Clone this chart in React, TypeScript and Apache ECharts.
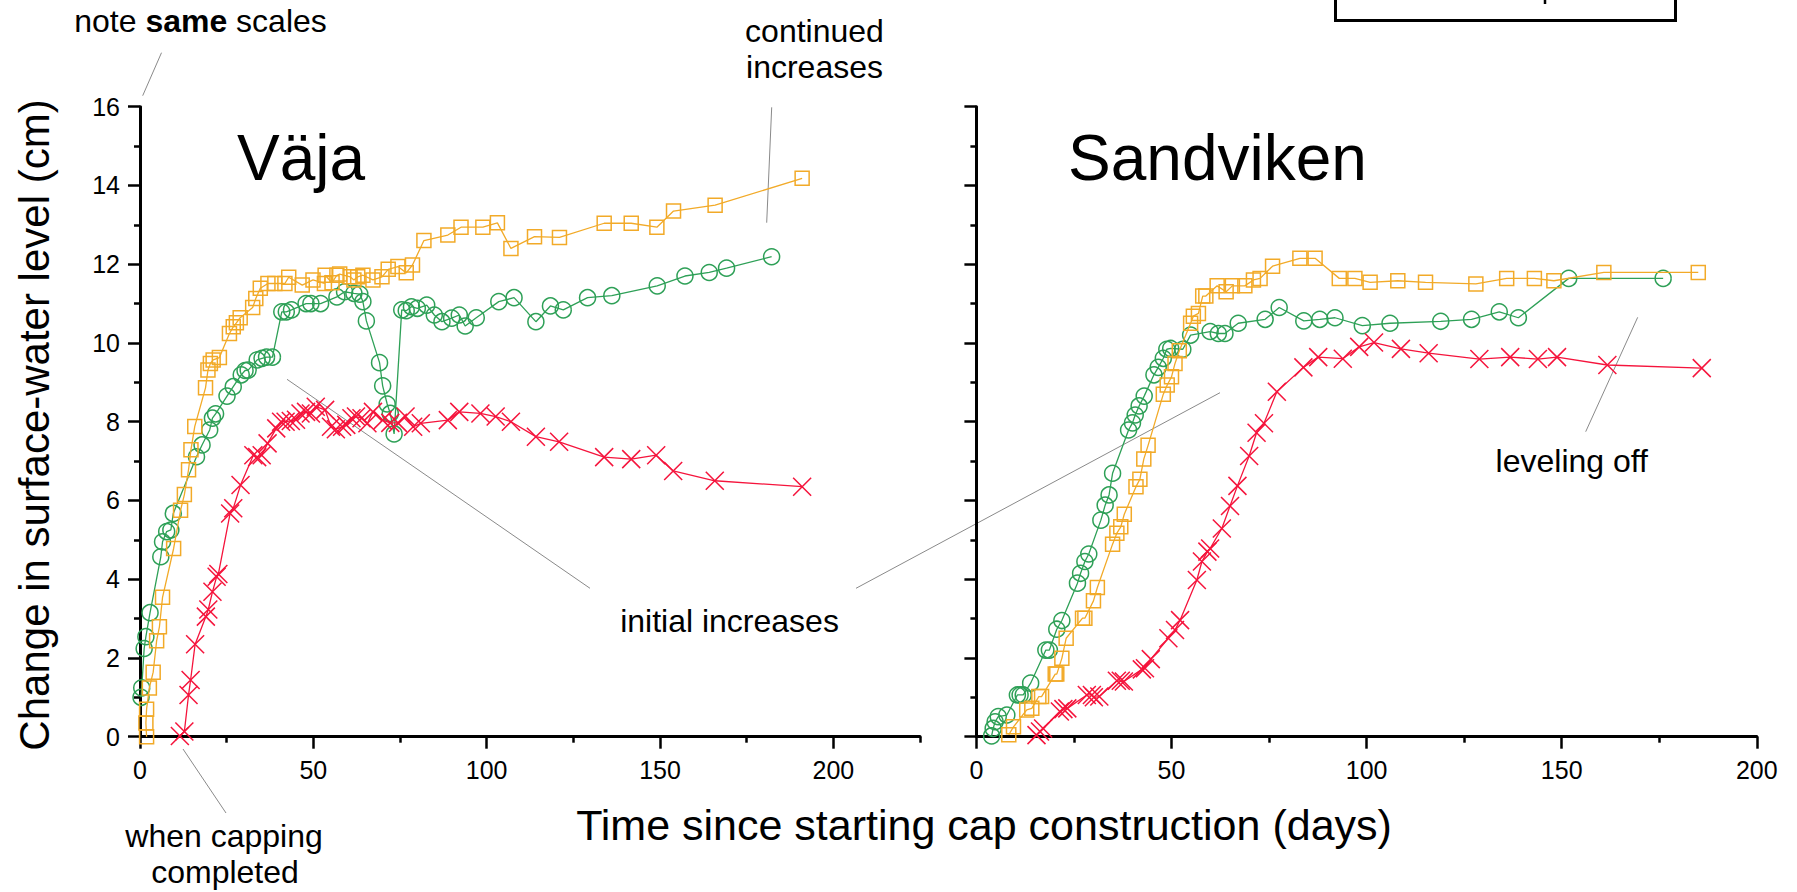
import React, { useEffect, useRef } from "react";
import * as echarts from "echarts";

const FONT = '"Liberation Sans", Arial, sans-serif';

// ---- Väja (left panel) ----
const vajaOrangeDays = [1.9, 1.7, 1.9, 2.7, 3.8, 4.8, 5.6, 6.5, 9.7, 11.7, 12.8, 14.0, 14.7, 15.8, 18.9, 19.6, 20.3, 21.1, 22.9, 25.8, 26.9, 27.8, 28.9, 32.5, 33.4, 34.7, 36.9, 38.9, 41.8, 42.9, 46.8, 49.9, 53.2, 53.4, 55.4, 56.8, 57.6, 60.6, 61.7, 62.8, 64.3, 67.2, 69.8, 71.6, 74.4, 76.8, 78.6, 81.9, 88.8, 92.6, 98.9, 103.1, 107.0, 113.8, 121.0, 133.9, 141.7, 149.1, 153.9, 165.9, 191.0];
const vajaOrangeCm = [0.0, 0.35, 0.7, 1.24, 1.64, 2.44, 2.79, 3.54, 4.78, 5.75, 6.15, 6.78, 7.29, 7.88, 8.86, 9.31, 9.48, 9.57, 9.63, 10.24, 10.41, 10.51, 10.64, 10.9, 11.13, 11.39, 11.51, 11.51, 11.51, 11.67, 11.47, 11.6, 11.51, 11.72, 11.53, 11.72, 11.75, 11.68, 11.6, 11.68, 11.72, 11.6, 11.68, 11.87, 11.94, 11.78, 11.98, 12.6, 12.74, 12.94, 12.94, 13.05, 12.4, 12.7, 12.68, 13.04, 13.04, 12.94, 13.35, 13.5, 14.18];

const vajaGreenDays = [0.3, 0.5, 1.2, 1.7, 2.9, 6.0, 6.5, 7.7, 8.9, 9.6, 16.3, 17.9, 20.1, 20.9, 21.8, 25.1, 26.9, 29.2, 30.3, 31.2, 33.8, 35.2, 36.5, 38.2, 40.9, 42.2, 43.7, 47.9, 49.3, 52.1, 56.8, 59.0, 61.7, 63.4, 64.3, 65.3, 69.1, 70.0, 71.3, 72.2, 73.3, 75.5, 76.8, 78.3, 80.0, 82.7, 84.9, 87.1, 89.9, 92.1, 93.8, 97.0, 103.5, 107.9, 114.2, 118.4, 122.1, 129.1, 136.1, 149.2, 157.2, 164.2, 169.2, 182.2];
const vajaGreenCm = [1.0, 1.24, 2.24, 2.54, 3.15, 4.57, 4.95, 5.21, 5.25, 5.67, 7.11, 7.41, 7.79, 8.09, 8.2, 8.65, 8.89, 9.19, 9.3, 9.31, 9.57, 9.61, 9.64, 9.64, 10.79, 10.79, 10.84, 11.0, 11.0, 11.0, 11.17, 11.3, 11.26, 11.24, 11.05, 10.56, 9.5, 8.91, 8.45, 8.21, 7.69, 10.84, 10.82, 10.92, 10.88, 10.96, 10.71, 10.54, 10.63, 10.71, 10.43, 10.64, 11.05, 11.15, 10.54, 10.94, 10.84, 11.15, 11.2, 11.45, 11.7, 11.79, 11.9, 12.19];

const vajaRedDays = [11.5, 12.8, 14.0, 14.6, 15.9, 19.0, 19.7, 20.9, 22.1, 22.6, 26.0, 26.9, 29.0, 32.7, 33.8, 35.1, 36.8, 39.3, 40.7, 42.0, 43.5, 45.0, 46.3, 47.9, 49.3, 50.7, 53.4, 55.1, 56.5, 58.3, 59.5, 61.0, 62.3, 63.9, 65.6, 67.2, 70.0, 72.2, 74.4, 76.6, 78.8, 81.0, 88.8, 92.1, 98.2, 102.6, 107.0, 114.2, 120.9, 133.9, 141.7, 148.9, 153.8, 165.8, 191.0];
const vajaRedCm = [0.02, 0.13, 1.06, 1.44, 2.35, 3.05, 3.23, 3.68, 4.06, 4.13, 5.67, 5.8, 6.39, 7.15, 7.1, 7.15, 7.45, 7.83, 8.0, 8.0, 8.02, 8.05, 8.21, 8.25, 8.21, 8.38, 8.3, 7.87, 7.81, 7.87, 7.92, 8.09, 8.13, 8.09, 7.96, 8.25, 8.04, 7.97, 7.97, 8.13, 7.87, 7.96, 8.04, 8.25, 8.21, 8.13, 8.0, 7.62, 7.49, 7.1, 7.05, 7.15, 6.75, 6.5, 6.35];

// ---- Sandviken (right panel) ----
const sandGreenDays = [3.9, 4.3, 4.8, 5.6, 7.8, 10.5, 11.2, 12.0, 13.9, 17.8, 18.7, 20.6, 21.9, 25.9, 26.7, 27.8, 28.8, 31.9, 33.0, 34.0, 34.9, 39.0, 40.0, 40.7, 41.7, 43.0, 45.5, 46.6, 47.9, 48.8, 49.8, 52.9, 54.9, 59.9, 62.0, 63.7, 67.1, 74.0, 77.6, 83.9, 88.0, 91.9, 98.9, 106.0, 119.0, 126.9, 134.0, 138.9, 151.8, 176.0];
const sandGreenCm = [0.02, 0.21, 0.38, 0.51, 0.55, 1.06, 1.06, 1.06, 1.36, 2.2, 2.2, 2.73, 2.95, 3.9, 4.15, 4.45, 4.64, 5.5, 5.88, 6.14, 6.69, 7.79, 7.97, 8.17, 8.4, 8.65, 9.19, 9.38, 9.61, 9.84, 9.86, 9.84, 10.2, 10.29, 10.24, 10.24, 10.5, 10.6, 10.9, 10.56, 10.6, 10.64, 10.44, 10.5, 10.55, 10.6, 10.79, 10.64, 11.64, 11.64];

const sandOrangeDays = [8.3, 9.5, 12.9, 14.2, 16.0, 16.7, 20.2, 20.6, 21.9, 23.0, 27.2, 27.8, 30.0, 31.0, 34.9, 36.0, 37.0, 37.9, 40.9, 41.9, 42.9, 44.0, 47.9, 48.9, 50.0, 50.9, 52.0, 54.9, 55.6, 56.9, 58.0, 58.8, 61.7, 64.0, 65.6, 68.8, 71.0, 72.7, 75.9, 82.9, 86.8, 93.0, 97.0, 100.9, 108.0, 115.1, 128.0, 135.9, 143.0, 148.0, 160.8, 185.0];
const sandOrangeCm = [0.05, 0.25, 0.68, 0.72, 1.02, 1.02, 1.59, 1.59, 1.99, 2.5, 3.01, 3.01, 3.45, 3.79, 4.89, 5.17, 5.33, 5.65, 6.35, 6.54, 7.05, 7.4, 8.7, 8.93, 9.14, 9.48, 9.8, 10.5, 10.68, 10.75, 11.19, 11.19, 11.45, 11.3, 11.45, 11.45, 11.6, 11.64, 11.95, 12.15, 12.15, 11.64, 11.64, 11.54, 11.58, 11.54, 11.5, 11.64, 11.64, 11.58, 11.79, 11.79];

const sandRedDays = [15.4, 16.3, 17.1, 21.4, 22.3, 23.3, 28.3, 29.6, 30.1, 31.5, 36.0, 37.0, 37.8, 42.4, 43.2, 44.7, 49.2, 50.9, 52.2, 56.5, 57.8, 59.2, 59.9, 62.9, 65.0, 66.9, 69.9, 71.8, 73.7, 77.0, 83.8, 87.6, 93.9, 98.1, 101.9, 108.8, 115.9, 128.9, 136.8, 143.9, 148.8, 161.7, 185.9];
const sandRedCm = [0.04, 0.13, 0.21, 0.64, 0.7, 0.72, 1.06, 1.06, 1.0, 1.02, 1.42, 1.42, 1.4, 1.71, 1.74, 1.97, 2.5, 2.71, 2.96, 3.98, 4.45, 4.7, 4.78, 5.29, 5.86, 6.37, 7.13, 7.72, 7.96, 8.76, 9.38, 9.64, 9.6, 9.9, 10.01, 9.85, 9.74, 9.59, 9.64, 9.59, 9.64, 9.44, 9.36];

// ---- axes ----
const yTicks = [0, 2, 4, 6, 8, 10, 12, 14, 16];
const xLabelsLeft = [0, 50, 100, 150, 200];
const xMinorLeft = [25, 75, 125, 175, 225];

const ORANGE = "#F2AA28";
const GREEN = "#2EA057";
const RED = "#F5143C";
const CROSS = "path://M0 0L20 20M20 0L0 20";

const zip = (a: number[], b: number[]) => a.map((v, i) => [v, b[i]]);

const axisLineStyle = { color: "#000", width: 3 };
const tickStyle = { color: "#000", width: 2.5 };
const labelStyle = { fontSize: 25, color: "#000", fontFamily: FONT };

function makeSeries(name: string, data: number[][], xi: number, yi: number, color: string, kind: string) {
  const symbol = kind === "square" ? "rect" : kind === "circle" ? "circle" : CROSS;
  const size = kind === "square" ? 14 : kind === "circle" ? 16 : 18;
  return {
    name,
    type: "line",
    xAxisIndex: xi,
    yAxisIndex: yi,
    data,
    symbol,
    symbolSize: size,
    showSymbol: true,
    lineStyle: { color, width: 1.3 },
    itemStyle: { color: "rgba(0,0,0,0)", borderColor: color, borderWidth: 1.5 },
    emphasis: { disabled: true },
    silent: true,
    z: kind === "cross" ? 4 : kind === "square" ? 3 : 2,
  };
}

function txt(text: string, x: number, y: number, size: number, align = "center", extra: any = {}) {
  return {
    type: "text",
    x,
    y,
    silent: true,
    ...extra,
    style: { text, fill: "#000", fontSize: size, fontFamily: FONT, align, verticalAlign: "middle" },
  };
}

function ln(x1: number, y1: number, x2: number, y2: number) {
  return { type: "line", silent: true, shape: { x1, y1, x2, y2 }, style: { stroke: "#8a8a8a", lineWidth: 1 } };
}

export default function App() {
  const ref = useRef<HTMLDivElement>(null);
  useEffect(() => {
    if (!ref.current) return;
    const chart = echarts.init(ref.current, null, { renderer: "svg" });
    const yAxisBase = {
      type: "value",
      min: 0,
      max: 16,
      interval: 2,
      axisLine: { show: true, onZero: false, lineStyle: axisLineStyle },
      axisTick: { show: true, length: 12, lineStyle: tickStyle },
      minorTick: { show: true, splitNumber: 2, length: 6, lineStyle: tickStyle },
      splitLine: { show: false },
      minorSplitLine: { show: false },
    };
    const option: any = {
      animation: false,
      backgroundColor: "#fff",
      grid: [
        { left: 140, top: 106.7, width: 780, height: 630, outerBoundsMode: "none", containLabel: false },
        { left: 976.4, top: 106.7, width: 780.4, height: 630, outerBoundsMode: "none", containLabel: false },
      ],
      xAxis: [
        {
          gridIndex: 0,
          type: "value",
          min: 0,
          max: 225,
          position: "bottom",
          axisLine: { show: true, onZero: false, lineStyle: axisLineStyle },
          axisTick: { show: true, length: 12, lineStyle: tickStyle, customValues: xLabelsLeft },
          axisLabel: { ...labelStyle, margin: 21, customValues: xLabelsLeft },
          splitLine: { show: false },
        },
        {
          gridIndex: 0,
          type: "value",
          min: 0,
          max: 225,
          position: "bottom",
          axisLine: { show: false },
          axisTick: { show: true, length: 6, lineStyle: tickStyle, customValues: xMinorLeft },
          axisLabel: { show: false },
          splitLine: { show: false },
        },
        {
          gridIndex: 1,
          type: "value",
          min: 0,
          max: 200,
          interval: 50,
          position: "bottom",
          axisLine: { show: true, onZero: false, lineStyle: axisLineStyle },
          axisTick: { show: true, length: 12, lineStyle: tickStyle },
          minorTick: { show: true, splitNumber: 2, length: 6, lineStyle: tickStyle },
          axisLabel: { ...labelStyle, margin: 21 },
          splitLine: { show: false },
          minorSplitLine: { show: false },
        },
      ],
      yAxis: [
        { ...yAxisBase, gridIndex: 0, axisLabel: { ...labelStyle, margin: 20, customValues: yTicks } },
        { ...yAxisBase, gridIndex: 1, axisLabel: { show: false } },
      ],
      series: [
        makeSeries("Väja green", zip(vajaGreenDays, vajaGreenCm), 0, 0, GREEN, "circle"),
        makeSeries("Väja orange", zip(vajaOrangeDays, vajaOrangeCm), 0, 0, ORANGE, "square"),
        makeSeries("Väja red", zip(vajaRedDays, vajaRedCm), 0, 0, RED, "cross"),
        makeSeries("Sandviken green", zip(sandGreenDays, sandGreenCm), 2, 1, GREEN, "circle"),
        makeSeries("Sandviken orange", zip(sandOrangeDays, sandOrangeCm), 2, 1, ORANGE, "square"),
        makeSeries("Sandviken red", zip(sandRedDays, sandRedCm), 2, 1, RED, "cross"),
      ],
      graphic: [
        // leader lines
        ln(161.5, 52.7, 142.7, 95.7),
        ln(183, 749, 226, 813),
        ln(771.7, 107.3, 766.7, 222.7),
        ln(287, 379.3, 590, 588.3),
        ln(856, 588.3, 1220, 392.7),
        ln(1585.7, 431.7, 1637.7, 317.3),
        // top right box (cut off)
        { type: "rect", silent: true, shape: { x: 1335.5, y: -10, width: 340, height: 30.5 }, style: { fill: "none", stroke: "#000", lineWidth: 3 } },
        { type: "line", silent: true, shape: { x1: 1545, y1: 0, x2: 1545, y2: 4 }, style: { stroke: "#000", lineWidth: 2.5 } },
        // texts
        {
          type: "text",
          x: 200.5,
          y: 20.6,
          silent: true,
          style: {
            text: "{a|note }{b|same}{a| scales}",
            fill: "#000",
            fontSize: 32,
            fontFamily: FONT,
            align: "center",
            verticalAlign: "middle",
            rich: {
              a: { fontSize: 32, fontFamily: FONT, fill: "#000" },
              b: { fontSize: 32, fontFamily: FONT, fontWeight: "bold", fill: "#000" },
            },
          },
        },
        txt("Väja", 237, 157.8, 64, "left"),
        txt("Sandviken", 1068, 157.8, 64, "left"),
        txt("continued", 814.5, 30.6, 32),
        txt("increases", 814.5, 67.2, 32),
        txt("initial increases", 729.5, 620.6, 32),
        txt("leveling off", 1571.8, 460.6, 32),
        txt("when capping", 224, 835.6, 32),
        txt("completed", 225, 872.2, 32),
        txt("Time since starting cap construction (days)", 984, 825, 43),
        txt("Change in surface-water level (cm)", 34, 425, 42, "center", { rotation: Math.PI / 2 }),
      ],
    };
    chart.setOption(option);
    return () => chart.dispose();
  }, []);
  return <div ref={ref} style={{ position: "fixed", left: 0, top: 0, width: 1797, height: 892 }} />;
}
